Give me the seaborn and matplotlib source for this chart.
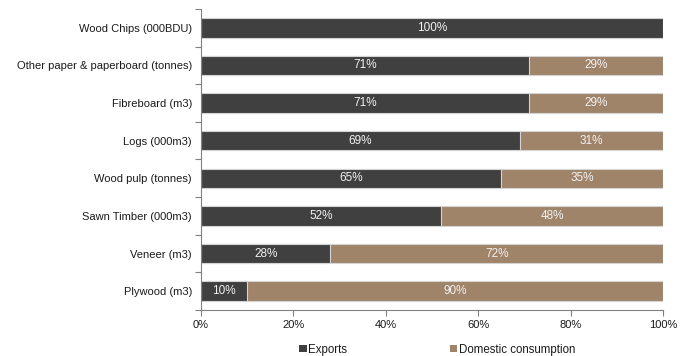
import matplotlib
matplotlib.use("Agg")
import matplotlib.pyplot as plt
import seaborn as sns
import pandas as pd
from matplotlib.patches import Patch
from matplotlib.ticker import FuncFormatter

products = [
    "Wood Chips (000BDU)",
    "Other paper & paperboard (tonnes)",
    "Fibreboard (m3)",
    "Logs (000m3)",
    "Wood pulp (tonnes)",
    "Sawn Timber (000m3)",
    "Veneer (m3)",
    "Plywood (m3)",
]
exports = [100, 71, 71, 69, 65, 52, 28, 10]
domestic = [0, 29, 29, 31, 35, 48, 72, 90]
x_ticks = [0, 20, 40, 60, 80, 100]

dark = "#404040"
tan = "#A0846A"
fs = 8

sns.set_theme(style="white")
plt.rcParams["font.family"] = ["Liberation Sans", "DejaVu Sans"]

df = pd.DataFrame({"product": products, "exports": exports, "domestic": domestic})
df["total"] = df["exports"] + df["domestic"]

fig = plt.figure(figsize=(6.92, 3.56), dpi=100)
ax = fig.add_axes([0.2905, 0.129, 0.6675, 0.846])

# stacked bars: full length in tan, exports over it in dark grey
sns.barplot(data=df, y="product", x="total", color=tan, orient="h",
            width=0.52, edgecolor="#d4d4d4", linewidth=0.8, ax=ax, saturation=1)
sns.barplot(data=df, y="product", x="exports", color=dark, orient="h",
            width=0.52, edgecolor="#d4d4d4", linewidth=0.8, ax=ax, saturation=1)

for i, (e, d) in enumerate(zip(exports, domestic)):
    if e > 0:
        ax.text(e / 2, i, f"{e}%", ha="center", va="center",
                color="#f2f2f2", fontsize=8.5)
    if d > 0:
        ax.text(e + d / 2, i, f"{d}%", ha="center", va="center",
                color="#f2f2f2", fontsize=8.5)

ax.set_xlim(0, 100)
ax.set_ylim(len(products) - 0.5, -0.5)
ax.set_xticks(x_ticks)
ax.xaxis.set_major_formatter(FuncFormatter(lambda v, _: f"{v:.0f}%"))
ax.set_yticks([i - 0.5 for i in range(len(products) + 1)], minor=False)
ax.set_yticklabels([])
ax.set_yticks(range(len(products)), minor=True)
ax.set_yticklabels(products, minor=True)
ax.tick_params(axis="y", which="major", length=4, width=0.8, color="#808080",
               direction="out", left=True)
ax.tick_params(axis="y", which="minor", length=0, labelsize=fs, pad=6.5,
               labelcolor="#1a1a1a")
ax.tick_params(axis="x", length=4, width=0.8, color="#808080", direction="out",
               bottom=True, labelsize=fs, labelcolor="#1a1a1a", pad=3)
ax.set_xlabel("")
ax.set_ylabel("")

for side in ["top", "right"]:
    ax.spines[side].set_visible(False)
for side in ["left", "bottom"]:
    ax.spines[side].set_color("#808080")
    ax.spines[side].set_linewidth(0.8)

handles = [Patch(facecolor=dark, edgecolor="none", label="Exports"),
           Patch(facecolor=tan, edgecolor="none", label="Domestic consumption")]
fig.legend(handles=handles, loc="center", bbox_to_anchor=(0.632, 0.018),
           ncol=2, frameon=False, fontsize=8.3, handlelength=0.65,
           handleheight=0.65, handletextpad=0.15, columnspacing=8.9,
           labelcolor="#1a1a1a", borderpad=0, borderaxespad=0)

fig.savefig("out.png", dpi=100, facecolor="white")
